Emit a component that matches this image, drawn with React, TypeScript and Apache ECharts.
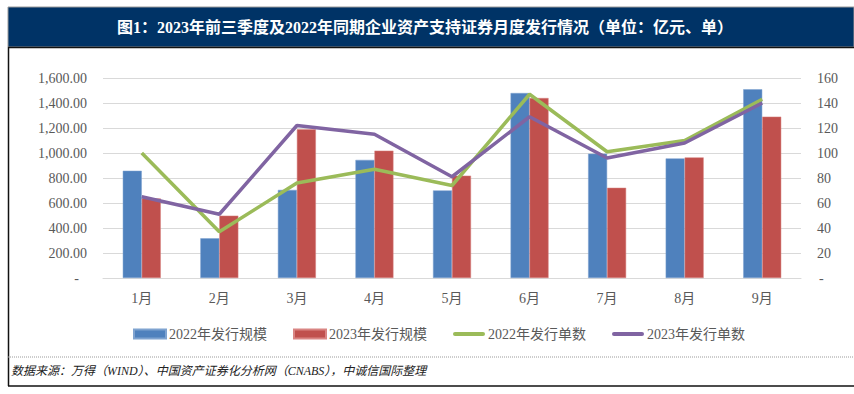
import React, { useEffect, useRef } from "react";
import * as echarts from "echarts";

const categories = ["1月", "2月", "3月", "4月", "5月", "6月", "7月", "8月", "9月"];
const scale2022 = [858, 318, 705, 945, 701, 1480, 995, 957, 1510];
const scale2023 = [637, 499, 1190, 1019, 819, 1440, 722, 965, 1291];
const count2022 = [100, 37, 76, 87, 74, 147, 101, 110, 143];
const count2023 = [65, 51, 122, 115, 81, 129, 96, 108, 140];
const seriesNames = ["2022年发行规模", "2023年发行规模", "2022年发行单数", "2023年发行单数"];
const titleText = "图1：2023年前三季度及2022年同期企业资产支持证券月度发行情况（单位：亿元、单）";
const sourceText = "数据来源：万得（WIND）、中国资产证券化分析网（CNABS），中诚信国际整理";

const FONT = "'Liberation Serif', 'Times New Roman', 'Noto Sans CJK SC', serif";
const GRAY = "#595959";
const LINE_ICON = "path://M2,0H30A2,2,0,0,1,30,4H2A2,2,0,0,1,2,0Z";

export default function App() {
  const ref = useRef<HTMLDivElement>(null);
  useEffect(() => {
    if (!ref.current) return;
    const chart = echarts.init(ref.current, undefined, { renderer: "svg" });
    chart.setOption({
      animation: false,
      backgroundColor: "#ffffff",
      textStyle: { fontFamily: FONT },
      graphic: [
        { type: "rect", shape: { x: 8, y: 7, width: 846, height: 40 }, style: { fill: "#003366", stroke: "#9a9a9a", lineWidth: 1 } },
        { type: "line", shape: { x1: 8, y1: 47.5, x2: 854, y2: 47.5 }, style: { stroke: "#111", lineWidth: 1.5 } },
        { type: "line", shape: { x1: 8.5, y1: 47, x2: 8.5, y2: 386 }, style: { stroke: "#111", lineWidth: 1.5 } },
        { type: "line", shape: { x1: 8, y1: 357, x2: 854, y2: 357 }, style: { stroke: "#9a9a9a", lineWidth: 1, lineDash: [1, 1] } },
        { type: "line", shape: { x1: 8, y1: 386, x2: 854, y2: 386 }, style: { stroke: "#111", lineWidth: 1.5 } },
        {
          type: "text",
          x: 425,
          y: 27,
          style: {
            text: titleText,
            fill: "#ffffff",
            font: `bold 16px ${FONT}`,
            align: "center",
            verticalAlign: "middle",
          },
        },
        {
          type: "text",
          x: 11,
          y: 371,
          style: {
            text: sourceText,
            fill: "#222",
            font: `italic 12px ${FONT}`,
            align: "left",
            verticalAlign: "middle",
          },
        },
      ],
      grid: { left: 103, right: 53, top: 78, bottom: 116 },
      legend: {
        left: 128,
        top: 322,
        itemWidth: 32,
        itemHeight: 9,
        itemGap: 26,
        textStyle: { color: GRAY, fontSize: 14, fontFamily: FONT, padding: [0, 0, 0, -2] },
        data: [
          { name: seriesNames[0], icon: "rect" },
          { name: seriesNames[1], icon: "rect" },
          { name: seriesNames[2], icon: LINE_ICON },
          { name: seriesNames[3], icon: LINE_ICON },
        ],
      },
      xAxis: {
        type: "category",
        data: categories,
        axisLine: { lineStyle: { color: "#d9d9d9" } },
        axisTick: { show: false },
        axisLabel: { color: GRAY, fontSize: 14, margin: 13, fontFamily: FONT },
      },
      yAxis: [
        {
          type: "value",
          min: 0,
          max: 1600,
          interval: 200,
          axisLine: { show: false },
          axisTick: { show: false },
          splitLine: { lineStyle: { color: "#d9d9d9" } },
          axisLabel: {
            color: GRAY,
            fontSize: 14,
            margin: 16,
            fontFamily: FONT,
            formatter: (v: number) =>
              v === 0 ? "{d|-}" : v.toLocaleString("en-US", { minimumFractionDigits: 2, maximumFractionDigits: 2 }),
            rich: { d: { padding: [0, 8, 0, 0], color: GRAY, fontSize: 14, fontFamily: FONT } },
          },
        },
        {
          type: "value",
          min: 0,
          max: 160,
          interval: 20,
          axisLine: { show: false },
          axisTick: { show: false },
          splitLine: { show: false },
          axisLabel: {
            color: GRAY,
            fontSize: 14,
            margin: 16,
            fontFamily: FONT,
            formatter: (v: number) => (v === 0 ? "{d|-}" : String(v)),
            rich: { d: { padding: [0, 0, 0, 2], color: GRAY, fontSize: 14, fontFamily: FONT } },
          },
        },
      ],
      series: [
        {
          name: seriesNames[0],
          type: "bar",
          data: scale2022,
          barWidth: 19,
          barGap: "0%",
          itemStyle: { color: "#4f81bd", borderColor: "#7fa3d0", borderWidth: 0.5 },
        },
        {
          name: seriesNames[1],
          type: "bar",
          data: scale2023,
          barWidth: 19,
          itemStyle: { color: "#c0504d", borderColor: "#d98583", borderWidth: 0.5 },
        },
        {
          name: seriesNames[2],
          type: "line",
          yAxisIndex: 1,
          data: count2022,
          symbol: "none",
          lineStyle: { color: "#9bbb59", width: 3.5 },
          itemStyle: { color: "#9bbb59" },
        },
        {
          name: seriesNames[3],
          type: "line",
          yAxisIndex: 1,
          data: count2023,
          symbol: "none",
          lineStyle: { color: "#8064a2", width: 3.5 },
          itemStyle: { color: "#8064a2" },
        },
      ],
    });
    return () => chart.dispose();
  }, []);
  return (
    <div style={{ position: "absolute", left: 0, top: 0, width: 854, height: 394, background: "#fff" }}>
      <div ref={ref} style={{ width: 854, height: 394 }} />
    </div>
  );
}
